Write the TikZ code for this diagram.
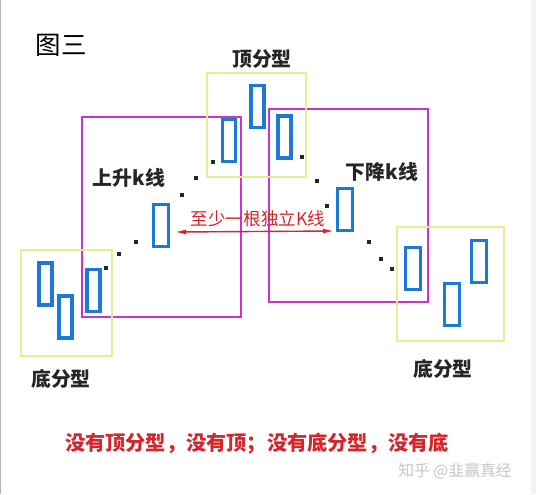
\documentclass[tikz,border=0pt]{standalone}
\usepackage{fontspec}
\setmainfont{Noto Sans CJK SC}
\usetikzlibrary{arrows.meta}
\definecolor{kblue}{RGB}{28,122,214}
\definecolor{fyellow}{RGB}{236,236,140}
\definecolor{tmagenta}{RGB}{204,51,204}
\definecolor{tred}{RGB}{212,38,44}
\tikzset{
	candle/.style={draw=kblue, line width=2.2pt, minimum width=0.26cm, minimum height=0.84cm, inner sep=0pt},
	wcandle/.style={candle, minimum width=0.3cm},
	fbox/.style={draw=fyellow, line width=1.6pt},
	tbox/.style={draw=tmagenta, line width=0.6pt},
	label/.style={font=\bfseries\fontsize{11.3}{13}\selectfont, text=black!85, inner sep=0pt}
}

\begin{document}
\begin{tikzpicture}[x=0.02cm, y=-0.02cm]
		%%%%% START %%%%%
		\useasboundingbox (0, 0) rectangle (536, 494);
		\fill[white] (0, 0) rectangle (536, 494);
		\draw[black!30, line width=1pt] (0.5, 0) -- (0.5, 494);
		\fill[black!5] (531, 0) rectangle (536, 494);
		
		% trend boxes
		\draw[tbox] (82, 117) rectangle (241, 317);
		\draw[tbox] (269, 109) rectangle (428, 302);
		
		% fractal boxes
		\draw[fbox] (207, 73) rectangle (306, 177);
		\draw[fbox] (21, 250) rectangle (112, 356);
		\draw[fbox] (397, 227) rectangle (504, 341);
		
		% top fractal
		\node[candle] (top1) at (229, 140.5) {};
		\node[candle] (top2) at (257.5, 106.5) {};
		\node[candle] (top3) at (284.5, 137) {};
		
		% bottom fractal, left
		\node[candle] (botl1) at (45.5, 284) {};
		\node[candle] (botl2) at (65.5, 317) {};
		\node[candle] (botl3) at (93.5, 290.5) {};
		
		% bottom fractal, right
		\node[wcandle] (botr1) at (413, 268.5) {};
		\node[wcandle] (botr2) at (452, 304.5) {};
		\node[wcandle] (botr3) at (479, 261.5) {};
		
		% single k lines
		\node[wcandle] (up) at (161, 225.5) {};
		\node[wcandle] (down) at (345, 209.5) {};
		
		\foreach \x/\y in {213/162, 196/178, 182/195, 136/242, 119/254, 106/268,
				302/157, 317/181, 327/206, 369/242, 381/259, 392/269}
			\fill[black!85] (\x-2.2, \y-2.2) rectangle (\x+2.2, \y+2.2);
		
		% arrow between the two k lines
		\coordinate (arrl) at (175, 232);
		\coordinate (arrr) at (334, 231);
		\draw[tred, line width=0.8pt, {Latex[length=0.22cm, width=0.1cm]}-{Latex[length=0.22cm, width=0.1cm]}] (arrl) -- (arrr);
		\node[text=tred, font=\fontsize{10}{12}\selectfont, inner sep=0pt] (single) at (258, 219) {至少一根独立K线};
		
		% labels
		\node[font=\fontsize{14.5}{16}\selectfont, inner sep=0pt] (title) at (61, 45) {图三};
		\node[label] (toplab) at (262, 59) {顶分型};
		\node[label] (uplab) at (129, 178) {上升k线};
		\node[label] (downlab) at (382, 172) {下降k线};
		\node[label] (botllab) at (61, 379) {底分型};
		\node[label] (botrlab) at (443, 369) {底分型};
		
		\node[text=tred, font=\bfseries\fontsize{11.5}{14}\selectfont, inner sep=0pt] (note) at (257, 444) {没有顶分型，没有顶；没有底分型，没有底};
		\node[text=black!22, font=\fontsize{9}{11}\selectfont, inner sep=0pt] (mark) at (455, 471) {知乎 @韭赢真经};
		%%%%% END %%%%%
	\end{tikzpicture}
\end{document}
